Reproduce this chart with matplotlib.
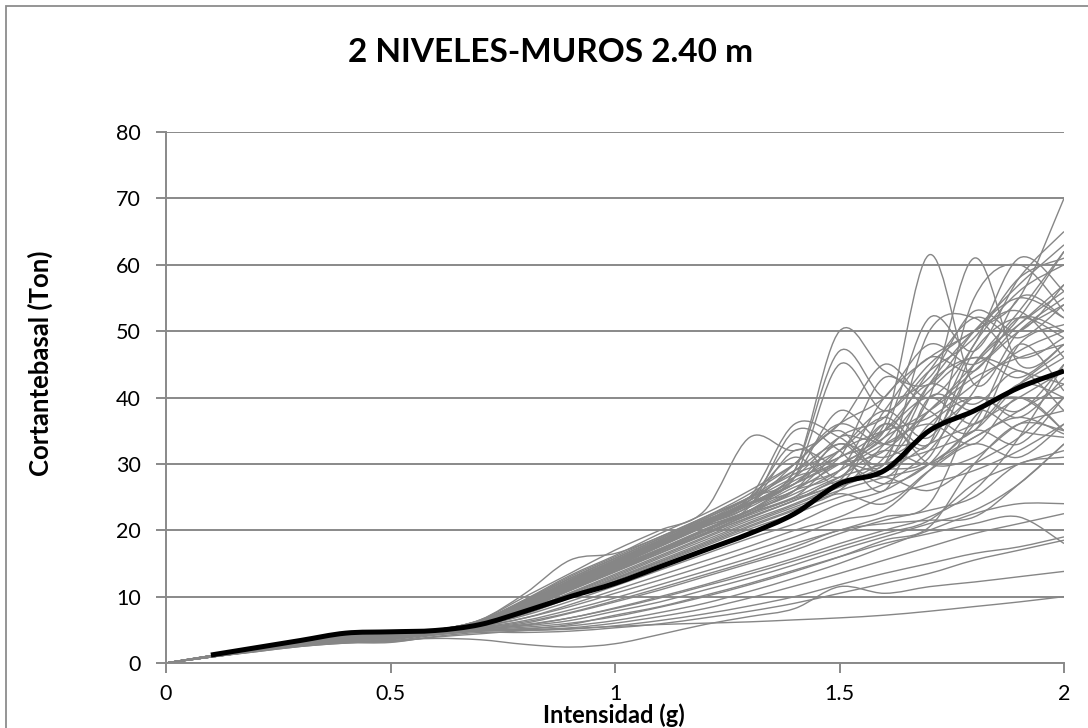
import numpy as np
import matplotlib
matplotlib.use("Agg")
import matplotlib.pyplot as plt
from matplotlib.path import Path
from matplotlib.patches import PathPatch, Rectangle

plt.rcParams['font.family'] = ['Lato', 'DejaVu Sans']

# Intensity (g) sample points
intensidad = [0.0, 0.1, 0.2, 0.3, 0.4, 0.5, 0.6, 0.7, 0.8, 0.9, 1.0,
              1.1, 1.2, 1.3, 1.4, 1.5, 1.6, 1.7, 1.8, 1.9, 2.0]

# Individual records (base shear, Ton)
r01 = [0, 1.1, 2.2, 3.3, 4.3, 4.7, 5.0, 6.5, 10.5, 15.5, 16.5, 19.0, 22.0, 25.5, 30.0, 36.0, 33.0, 38.0, 45.0, 52.0, 62.0]
r02 = [0, 1.1, 2.2, 3.3, 4.3, 4.7, 5.0, 6.4, 9.5, 13.0, 16.0, 19.0, 22.0, 25.0, 29.0, 50.0, 44.0, 42.0, 50.0, 57.0, 63.0]
r03 = [0, 1.0, 2.1, 3.2, 4.2, 4.6, 4.9, 6.3, 9.0, 12.5, 15.5, 18.5, 21.5, 24.0, 28.0, 34.0, 36.0, 61.5, 42.0, 50.0, 55.0]
r04 = [0, 1.0, 2.1, 3.2, 4.2, 4.6, 4.9, 6.2, 8.8, 12.0, 15.0, 18.0, 21.0, 24.0, 27.0, 30.0, 32.0, 40.0, 61.0, 45.0, 48.0]
r05 = [0, 1.1, 2.2, 3.3, 4.3, 4.7, 5.0, 6.5, 10.0, 13.5, 17.0, 20.0, 23.0, 34.0, 32.0, 36.0, 45.0, 40.0, 48.0, 61.0, 56.0]
r06 = [0, 1.0, 2.0, 3.1, 4.1, 4.5, 4.9, 6.0, 8.5, 11.5, 14.5, 17.5, 20.5, 23.0, 26.0, 29.0, 40.0, 46.0, 50.0, 55.0, 70.0]
r07 = [0, 1.0, 2.0, 3.1, 4.1, 4.5, 4.9, 6.1, 8.7, 12.0, 15.0, 18.0, 21.0, 24.0, 27.5, 31.0, 35.0, 52.0, 47.0, 58.0, 65.0]
r08 = [0, 1.1, 2.1, 3.2, 4.2, 4.6, 4.9, 6.3, 9.2, 12.5, 15.5, 18.5, 21.5, 25.0, 36.0, 34.0, 30.0, 42.0, 50.0, 55.0, 52.0]
r09 = [0, 1.0, 2.1, 3.2, 4.2, 4.6, 4.9, 6.2, 9.0, 12.2, 15.2, 18.2, 21.2, 24.5, 33.0, 28.0, 38.0, 46.0, 44.0, 52.0, 50.0]
r10 = [0, 1.0, 2.0, 3.1, 4.1, 4.5, 4.9, 6.0, 8.5, 11.5, 14.5, 17.0, 20.0, 23.0, 28.0, 38.0, 33.0, 35.0, 48.0, 56.0, 60.0]
r11 = [0, 1.0, 2.0, 3.0, 4.0, 4.5, 4.8, 6.0, 8.3, 11.0, 14.0, 17.0, 19.5, 22.5, 26.0, 30.0, 34.0, 44.0, 52.0, 49.0, 54.0]
r12 = [0, 1.1, 2.2, 3.3, 4.3, 4.7, 5.0, 6.4, 9.6, 13.2, 16.2, 19.5, 22.5, 26.0, 30.0, 35.0, 28.0, 36.0, 40.0, 38.0, 45.0]
r13 = [0, 1.0, 2.1, 3.2, 4.2, 4.6, 4.9, 6.2, 8.8, 12.0, 15.0, 18.0, 21.0, 24.0, 29.0, 47.0, 40.0, 43.0, 53.0, 50.0, 57.0]
r14 = [0, 1.0, 2.0, 3.1, 4.1, 4.5, 4.9, 6.1, 8.6, 11.8, 14.8, 17.8, 20.8, 23.5, 27.0, 30.0, 29.0, 33.0, 36.0, 40.0, 44.0]
r15 = [0, 1.0, 2.0, 3.0, 4.0, 4.4, 4.8, 5.9, 8.0, 11.0, 13.8, 16.8, 19.5, 22.5, 25.0, 28.0, 30.0, 32.0, 35.0, 42.0, 47.0]
r16 = [0, 1.1, 2.1, 3.2, 4.2, 4.6, 4.9, 6.3, 9.0, 12.3, 15.3, 18.3, 21.3, 24.5, 28.0, 31.0, 43.0, 38.0, 35.0, 48.0, 51.0]
r17 = [0, 1.0, 2.1, 3.2, 4.2, 4.6, 4.9, 6.2, 8.9, 12.1, 15.1, 18.1, 21.1, 24.2, 27.0, 33.0, 30.0, 50.0, 52.0, 46.0, 49.0]
r18 = [0, 1.0, 2.0, 3.1, 4.1, 4.5, 4.9, 6.0, 8.4, 11.4, 14.4, 17.2, 20.0, 22.8, 25.5, 29.0, 33.0, 36.0, 33.0, 40.0, 35.0]
r19 = [0, 1.0, 2.0, 3.0, 4.0, 4.4, 4.8, 5.8, 7.8, 10.5, 13.2, 16.0, 18.8, 21.5, 24.0, 27.0, 31.0, 42.0, 46.0, 44.0, 42.0]
r20 = [0, 1.1, 2.2, 3.3, 4.3, 4.7, 5.0, 6.4, 9.4, 12.8, 15.8, 18.8, 21.8, 25.0, 31.0, 27.0, 36.0, 33.0, 55.0, 60.0, 53.0]
r21 = [0, 1.0, 2.1, 3.2, 4.2, 4.6, 4.9, 6.2, 8.8, 11.9, 14.9, 17.9, 20.9, 24.0, 26.0, 32.0, 38.0, 34.0, 45.0, 53.0, 62.0]
r22 = [0, 1.0, 2.0, 3.1, 4.1, 4.5, 4.9, 6.0, 8.4, 11.3, 14.2, 17.0, 19.8, 22.6, 25.0, 30.0, 27.0, 30.0, 38.0, 35.0, 34.0]
r23 = [0, 1.0, 2.0, 3.0, 4.0, 4.4, 4.8, 5.8, 7.6, 10.2, 12.8, 15.5, 18.2, 21.0, 23.5, 26.0, 28.0, 30.0, 36.0, 48.0, 41.0]
r24 = [0, 1.0, 2.0, 3.0, 4.0, 4.4, 4.8, 5.7, 7.4, 9.8, 12.4, 15.0, 17.6, 20.2, 22.5, 25.0, 27.0, 32.0, 40.0, 37.0, 43.0]
r25 = [0, 1.0, 2.1, 3.2, 4.2, 4.6, 4.9, 6.1, 8.6, 11.6, 14.6, 17.6, 20.6, 23.6, 35.0, 32.0, 26.0, 40.0, 38.0, 42.0, 46.0]
r26 = [0, 1.0, 2.0, 3.1, 4.1, 4.5, 4.9, 6.0, 8.3, 11.2, 14.0, 16.8, 19.6, 22.3, 24.8, 27.5, 36.0, 30.0, 31.0, 36.0, 38.0]
r27 = [0, 1.0, 2.0, 3.0, 4.0, 4.4, 4.8, 5.7, 7.5, 10.0, 12.6, 15.2, 17.8, 20.5, 23.0, 25.5, 24.0, 29.0, 33.0, 31.0, 36.0]
r28 = [0, 1.0, 2.0, 3.0, 3.9, 4.3, 4.7, 5.5, 6.8, 8.5, 10.5, 12.5, 14.6, 16.8, 19.0, 21.5, 23.0, 29.0, 35.0, 33.0, 40.0]
r29 = [0, 1.0, 1.9, 2.9, 3.8, 4.2, 4.7, 5.4, 6.4, 8.0, 9.8, 11.8, 13.8, 15.8, 18.0, 20.0, 22.0, 24.0, 37.0, 40.0, 35.0]
r30 = [0, 1.0, 1.9, 2.9, 3.8, 4.2, 4.6, 5.3, 6.0, 7.5, 9.2, 11.0, 13.0, 15.0, 17.0, 19.5, 21.5, 23.0, 25.0, 30.0, 31.0]
r31 = [0, 0.9, 1.9, 2.8, 3.6, 4.0, 4.6, 5.2, 5.8, 6.8, 8.3, 10.0, 11.8, 13.8, 15.8, 18.0, 20.0, 22.0, 26.0, 34.0, 45.0]
r32 = [0, 0.9, 1.8, 2.7, 3.5, 3.9, 4.5, 5.1, 5.6, 6.4, 7.8, 9.2, 11.0, 12.8, 14.8, 17.0, 19.0, 21.0, 23.0, 27.0, 33.0]
r33 = [0, 0.9, 1.8, 2.7, 3.4, 3.8, 4.5, 5.0, 5.4, 6.0, 7.0, 8.4, 10.0, 11.8, 13.8, 16.0, 18.5, 20.5, 30.0, 36.0, 35.0]
r34 = [0, 0.9, 1.8, 2.7, 3.4, 3.7, 4.4, 4.9, 5.2, 5.6, 6.4, 7.6, 9.0, 10.8, 12.8, 15.0, 17.5, 20.0, 22.5, 24.0, 24.0]
r35 = [0, 0.9, 1.8, 2.6, 3.2, 3.5, 4.3, 4.8, 5.0, 5.3, 6.0, 7.0, 8.2, 9.8, 11.6, 13.5, 15.5, 17.5, 19.5, 21.0, 22.5]
r36 = [0, 0.9, 1.8, 2.6, 3.1, 3.3, 4.2, 4.8, 4.9, 5.1, 5.6, 6.4, 7.4, 8.6, 10.0, 11.8, 13.5, 15.0, 16.5, 17.5, 19.0]
r37 = [0, 0.9, 1.7, 2.5, 3.0, 3.1, 4.0, 4.6, 4.6, 4.8, 5.3, 5.9, 6.8, 7.8, 9.0, 10.5, 12.0, 13.5, 15.5, 17.0, 18.5]
r38 = [0, 0.9, 1.7, 2.5, 3.0, 3.4, 3.7, 3.5, 2.8, 2.4, 2.9, 4.3, 5.8, 7.0, 8.2, 11.5, 10.5, 11.5, 12.2, 13.0, 13.8]
r39 = [0, 0.9, 1.8, 2.6, 3.1, 3.2, 3.9, 4.4, 4.9, 5.2, 5.5, 5.8, 6.0, 6.2, 6.5, 6.8, 7.2, 7.8, 8.5, 9.2, 10.0]
r40 = [0, 0.9, 1.8, 2.7, 3.3, 3.6, 4.4, 4.9, 5.1, 5.8, 7.2, 8.5, 10.2, 12.0, 14.0, 16.0, 18.0, 19.5, 21.0, 22.0, 18.0]
r41 = [0, 1.0, 2.0, 3.1, 4.1, 4.5, 4.9, 6.1, 8.6, 11.7, 14.7, 17.7, 20.7, 23.8, 27.0, 32.0, 35.0, 37.0, 42.0, 47.0, 50.0]
r42 = [0, 1.1, 2.1, 3.2, 4.2, 4.6, 4.9, 6.2, 8.9, 12.2, 15.2, 18.2, 21.2, 24.0, 30.0, 36.0, 40.0, 48.0, 45.0, 51.0, 57.0]
r43 = [0, 1.0, 2.0, 3.0, 4.0, 4.4, 4.8, 5.9, 8.2, 11.1, 14.1, 17.0, 20.0, 23.0, 26.5, 29.0, 34.0, 38.0, 43.0, 46.0, 48.0]
r44 = [0, 1.0, 2.1, 3.2, 4.2, 4.6, 4.9, 6.2, 8.8, 12.0, 15.0, 18.0, 21.0, 24.5, 29.0, 33.0, 31.0, 35.0, 41.0, 55.0, 52.0]
r45 = [0, 1.0, 2.0, 3.1, 4.1, 4.5, 4.9, 6.0, 8.4, 11.4, 14.3, 17.2, 20.2, 23.0, 26.0, 34.0, 37.0, 45.0, 50.0, 53.0, 46.0]
r46 = [0, 1.0, 2.0, 3.0, 4.0, 4.4, 4.8, 5.8, 7.9, 10.6, 13.4, 16.2, 19.0, 21.8, 24.5, 27.0, 30.0, 38.0, 44.0, 50.0, 54.0]
r47 = [0, 1.1, 2.2, 3.3, 4.3, 4.7, 5.0, 6.4, 9.3, 12.7, 15.7, 18.7, 21.7, 25.0, 29.0, 32.0, 37.0, 33.0, 47.0, 52.0, 49.0]
r48 = [0, 1.0, 2.1, 3.2, 4.2, 4.6, 4.9, 6.1, 8.7, 11.8, 14.8, 17.8, 20.8, 23.8, 32.0, 30.0, 35.0, 42.0, 39.0, 44.0, 38.0]
r49 = [0, 1.0, 2.0, 3.1, 4.1, 4.5, 4.9, 6.0, 8.2, 11.0, 13.8, 16.6, 19.4, 22.0, 24.5, 28.0, 32.0, 30.0, 34.0, 37.0, 34.5]
r50 = [0, 1.0, 2.0, 3.0, 4.0, 4.4, 4.8, 5.7, 7.6, 10.1, 12.7, 15.3, 18.0, 20.7, 23.2, 26.0, 33.0, 41.0, 46.0, 43.0, 48.0]
r51 = [0, 1.0, 2.0, 3.0, 3.9, 4.3, 4.7, 5.6, 7.2, 9.3, 11.6, 14.0, 16.4, 18.8, 21.0, 24.0, 26.0, 30.0, 34.0, 38.0, 42.0]
r52 = [0, 1.0, 1.9, 2.9, 3.8, 4.2, 4.7, 5.5, 6.8, 8.8, 11.0, 13.2, 15.4, 17.6, 20.0, 22.0, 25.0, 27.0, 29.0, 32.0, 36.0]
r53 = [0, 0.9, 1.9, 2.8, 3.7, 4.1, 4.6, 5.3, 6.2, 7.6, 9.4, 11.3, 13.3, 15.3, 17.5, 20.0, 21.0, 21.5, 22.0, 27.0, 33.0]
r54 = [0, 1.0, 2.0, 3.0, 4.0, 4.4, 4.8, 5.8, 7.8, 10.4, 13.0, 15.8, 18.5, 21.2, 23.8, 26.5, 29.0, 31.0, 45.0, 51.0, 56.0]
r55 = [0, 1.1, 2.1, 3.2, 4.2, 4.6, 4.9, 6.3, 9.1, 12.4, 15.4, 18.4, 21.4, 24.8, 28.5, 31.0, 35.0, 40.0, 36.0, 42.0, 40.0]
r56 = [0, 1.0, 2.1, 3.2, 4.2, 4.6, 4.9, 6.1, 8.7, 11.8, 14.8, 17.8, 20.8, 24.0, 28.0, 45.0, 38.0, 44.0, 49.0, 58.0, 61.0]
r57 = [0, 0.9, 1.8, 2.7, 3.5, 3.9, 4.5, 5.1, 5.7, 6.8, 8.2, 9.8, 11.6, 13.4, 15.4, 17.5, 19.5, 21.5, 27.0, 30.0, 32.0]
r58 = [0, 1.0, 2.0, 3.0, 4.0, 4.4, 4.8, 5.9, 8.1, 10.9, 13.7, 16.5, 19.3, 22.0, 24.5, 27.5, 28.0, 26.0, 30.0, 34.0, 40.0]
registros = [r01, r02, r03, r04, r05, r06, r07, r08, r09, r10, r11, r12, r13, r14,
             r15, r16, r17, r18, r19, r20, r21, r22, r23, r24, r25, r26, r27,
             r28, r29, r30, r31, r32, r33, r34, r35, r36, r37, r38, r39, r40,
             r41, r42, r43, r44, r45, r46, r47, r48, r49, r50, r51, r52, r53,
             r54, r55, r56, r57, r58]

# Mean curve (starts at 0.1 g)
intensidad_media = [0.1, 0.2, 0.3, 0.4, 0.5, 0.6, 0.7, 0.8, 0.9, 1.0,
                    1.1, 1.2, 1.3, 1.4, 1.5, 1.6, 1.7, 1.8, 1.9, 2.0]
media = [1.2, 2.3, 3.4, 4.5, 4.7, 4.9, 5.8, 7.8, 10.0, 12.0,
         14.5, 17.0, 19.5, 22.5, 27.0, 29.0, 35.0, 38.0, 41.5, 44.0]

x_ticks = [0, 0.5, 1, 1.5, 2]
x_ticklabels = ['0', '0.5', '1', '1.5', '2']
y_ticks = [0, 10, 20, 30, 40, 50, 60, 70, 80]


def smooth_path(xs, ys):
    pts = np.column_stack([xs, ys]).astype(float)
    n = len(pts)
    verts = [pts[0]]
    codes = [Path.MOVETO]
    for i in range(n - 1):
        p0 = pts[i - 1] if i > 0 else pts[i]
        p1 = pts[i]
        p2 = pts[i + 1]
        p3 = pts[i + 2] if i + 2 < n else pts[i + 1]
        c1 = p1 + (p2 - p0) / 6.0
        c2 = p2 - (p3 - p1) / 6.0
        verts += [c1, c2, p2]
        codes += [Path.CURVE4] * 3
    return Path(verts, codes)


W, H = 1088, 728
fig = plt.figure(figsize=(W / 100, H / 100), dpi=100)
fig.patch.set_facecolor('white')
ax = fig.add_axes([166 / W, 1 - 663 / H, (1064 - 166) / W, (663 - 132) / H])
ax.set_xlim(0, 2)
ax.set_ylim(0, 80)

grid_c = '#898989'
for r in registros:
    ax.add_patch(PathPatch(smooth_path(intensidad, r), fill=False,
                           edgecolor='#868686', lw=1.0, zorder=2))
ax.add_patch(PathPatch(smooth_path(intensidad_media, media), fill=False,
                       edgecolor='black', lw=3.6, zorder=3,
                       capstyle='butt', joinstyle='round'))

ax.set_yticks(y_ticks)
ax.set_xticks(x_ticks)
ax.set_xticklabels(x_ticklabels)
ax.yaxis.grid(True, color=grid_c, lw=1.4, zorder=1)
ax.set_axisbelow(True)
for s in ['top', 'right']:
    ax.spines[s].set_visible(False)
for s in ['left', 'bottom']:
    ax.spines[s].set_color(grid_c)
    ax.spines[s].set_linewidth(1.4)
ax.tick_params(axis='both', colors=grid_c, width=1.4, length=7, direction='out',
               labelsize=15.5, labelcolor='black')
ax.tick_params(axis='y', pad=11)
ax.tick_params(axis='x', pad=8)

fig.text(551 / W, 1 - 52 / H, '2 NIVELES-MUROS 2.40 m', ha='center', va='center',
         fontsize=24, fontweight='bold')
fig.text(614 / W, 1 - 715 / H, 'Intensidad (g)', ha='center', va='center',
         fontsize=17, fontweight='bold')
fig.text(40 / W, 1 - 363 / H, 'Cortantebasal (Ton)', ha='center', va='center',
         rotation=90, fontsize=18.5, fontweight='bold')

fig.patches.append(Rectangle((6 / W, -0.02), 1.1, 1 - 6 / H + 0.02,
                             transform=fig.transFigure, fill=False,
                             edgecolor='#8c8c8c', lw=1.3))

fig.savefig('out.png', dpi=100)
